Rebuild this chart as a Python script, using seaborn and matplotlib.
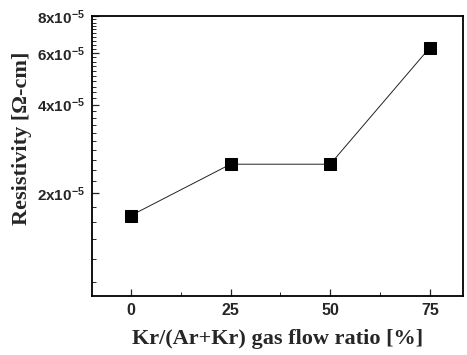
import matplotlib
matplotlib.use("Agg")
import matplotlib.pyplot as plt
import matplotlib.ticker as mticker
import seaborn as sns
import pandas as pd

ratio = [0, 25, 50, 75]
resistivity = [1.68e-5, 2.51e-5, 2.51e-5, 6.25e-5]
ytick_vals = [2e-5, 4e-5, 6e-5, 8e-5]
ytick_labels = [r"$\mathbf{2x10^{-5}}$", r"$\mathbf{4x10^{-5}}$",
                r"$\mathbf{6x10^{-5}}$", r"$\mathbf{8x10^{-5}}$"]
xtick_vals = [0, 25, 50, 75]

sns.set_style("ticks")
plt.rcParams["font.family"] = ["Liberation Sans", "DejaVu Sans"]
plt.rcParams["mathtext.fontset"] = "custom"
plt.rcParams["mathtext.bf"] = "Liberation Sans:bold"
plt.rcParams["mathtext.rm"] = "Liberation Sans"

df = pd.DataFrame({"ratio": ratio, "res": resistivity})

fig = plt.figure(figsize=(4.67, 3.55), dpi=100)
ax = fig.add_axes([0.197, 0.166, 0.794, 0.789])
sns.lineplot(data=df, x="ratio", y="res", ax=ax, color="#222222", lw=0.7,
             marker="s", markersize=8, markeredgecolor="black",
             markerfacecolor="black")
ax.set_yscale("log")
ax.set_ylim(0.895e-5, 8e-5)
ax.set_xlim(-9.75, 83.25)
ax.set_yticks(ytick_vals)
ax.set_yticklabels(ytick_labels, fontsize=11)
ax.yaxis.set_minor_locator(mticker.FixedLocator([v * 1e-5 for v in
    [1.0, 1.2, 1.4, 1.6, 1.8, 2.2, 2.4, 2.6, 2.8, 3.0, 3.2, 3.4, 3.6, 3.8,
     4.2, 4.4, 4.6, 4.8, 5.0, 5.2, 5.4, 5.6, 5.8, 6.2, 6.4, 6.6, 6.8, 7.0,
     7.2, 7.4, 7.6, 7.8]]))
ax.yaxis.set_minor_formatter(mticker.NullFormatter())
ax.set_xticks(xtick_vals)
ax.set_xticklabels([str(v) for v in xtick_vals], fontsize=11.5, fontweight="bold")
ax.xaxis.set_minor_locator(mticker.MultipleLocator(12.5))
ax.tick_params(axis="both", which="major", direction="in", length=5, width=0.9,
               top=False, right=False, pad=5)
ax.tick_params(axis="both", which="minor", direction="in", length=3, width=0.7,
               top=False, right=False)
for s in ax.spines.values():
    s.set_visible(True)
    s.set_linewidth(1.3)
    s.set_color("black")
ax.set_xlabel("Kr/(Ar+Kr) gas flow ratio [%]", family=["Liberation Serif"],
              fontsize=16, fontweight="bold", labelpad=8)
ax.set_ylabel("Resistivity [Ω-cm]", family=["Liberation Serif"],
              fontsize=16, fontweight="bold")
ax.yaxis.set_label_coords(-0.162, 0.564)
fig.savefig("out.png", dpi=100)
